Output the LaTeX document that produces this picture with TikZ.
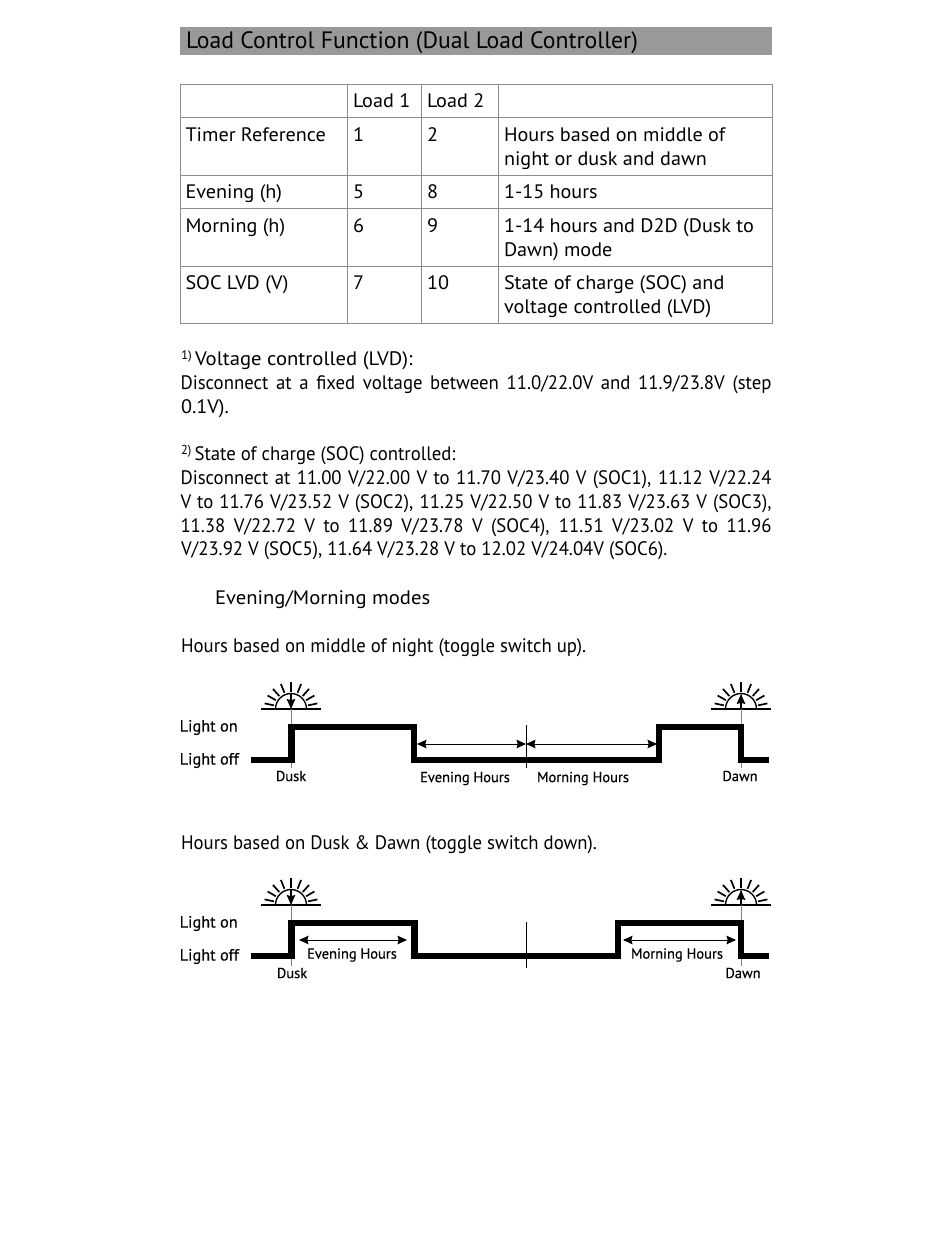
\documentclass[tikz,border=0pt]{standalone}
\usepackage{fontspec}
\setmainfont{PT Sans}
\newfontfamily\tabf[FakeStretch=1.035]{PT Sans}
\newfontfamily\headf[FakeStretch=1.06]{PT Sans}
\newfontfamily\parf[FakeStretch=0.962]{PT Sans}
\newfontfamily\labf[FakeBold=0.35]{PT Sans}
\usetikzlibrary{arrows.meta}
\tikzset{
  x=1pt,y=-1pt,
  txt/.style={anchor=base west,inner sep=0pt,outer sep=0pt,font=\tabf\fontsize{19.5}{23}\selectfont,text=black},
  par/.style={txt,font=\parf\fontsize{19.5}{23}\selectfont},
  hdr/.style={txt,font=\headf\fontsize{19.5}{23}\selectfont},
  ttl/.style={txt,font=\fontsize{23.7}{26}\selectfont},
  lab/.style={inner sep=0pt,font=\labf\fontsize{14.5}{16}\selectfont,text=black},
  labl/.style={lab,anchor=west,font=\labf\fontsize{16.3}{18}\selectfont},
  grid/.style={draw=black!45,line width=0.8pt},
  wave/.style={line width=6.1pt,line join=miter,draw=black},
  guide/.style={draw=black!50,line width=1pt},
  tick/.style={draw=black,line width=0.7pt},
  dim/.style={draw=black,line width=0.9pt,{Stealth[length=9.5pt,width=8.5pt,inset=1.2pt]}-{Stealth[length=9.5pt,width=8.5pt,inset=1.2pt]}},
  sunline/.style={draw=black,line width=1.4pt},
  sunarrow/.style={draw=black,line width=1.2pt,-{Stealth[length=10pt,width=8.5pt,inset=1.2pt]}},
}
\newcommand{\jline}[2]{\node[par] at (180.5,#1) {\makebox[591pt][s]{#2}};}
\newcommand{\sunrays}[3]{%
  \begin{scope}[shift={(#1,#2)}]
    \coordinate (#3c) at (0,0);
    \draw[sunline] (-30,0) -- (30,0);
    \draw[sunline] (-15.5,0) arc[start angle=180,end angle=360,radius=15.5];
    \foreach \a in {12,30,48,68,90,112,132,150,168}
      \draw[sunline,line width=1.7pt] ({17.5*cos(\a)},{-17.5*sin(\a)}) -- ({27*cos(\a)},{-27*sin(\a)});
  \end{scope}}
\begin{document}
\begin{tikzpicture}
\useasboundingbox (0,0) rectangle (950,1244);
\fill[white] (0,0) rectangle (950,1244);
% title
\fill[black!40] (180,27) rectangle (772,55);
\node[ttl] (title) at (186,48.5) {Load Control Function (Dual Load Controller)};
% table
\draw[grid] (180.5,84.5) rectangle (772.5,323.5);
\foreach \y in {117.5,175.5,208.5,266}
  \draw[grid] (180.5,\y) -- (772.5,\y);
\foreach \x in {347.5,421.5,498.5}
  \draw[grid] (\x,84.5) -- (\x,323.5);
\node[txt] (l1) at (353,107.5) {Load 1};
\node[txt] (l2) at (427,107.5) {Load 2};
\node[txt] (r1a) at (185.5,141) {Timer Reference};
\node[txt] (r1b) at (353,141) {1};
\node[txt] (r1c) at (427,141) {2};
\node[txt] (r1d) at (504,141) {Hours based on middle of};
\node[txt] (r1e) at (504,165) {night or dusk and dawn};
\node[txt] (r2a) at (185.5,198) {Evening (h)};
\node[txt] (r2b) at (353,198) {5};
\node[txt] (r2c) at (427,198) {8};
\node[txt] (r2d) at (504,198) {1-15 hours};
\node[txt] (r3a) at (185.5,232) {Morning (h)};
\node[txt] (r3b) at (353,232) {6};
\node[txt] (r3c) at (427,232) {9};
\node[txt] (r3d) at (504,232) {1-14 hours and D2D (Dusk to};
\node[txt] (r3e) at (504,256) {Dawn) mode};
\node[txt] (r4a) at (185.5,289) {SOC LVD (V)};
\node[txt] (r4b) at (353,289) {7};
\node[txt] (r4c) at (427,289) {10};
\node[txt] (r4d) at (504,289) {State of charge (SOC) and};
\node[txt] (r4e) at (504,313) {voltage controlled (LVD)};
% notes
\node[hdr] (n1) at (181,365) {\raisebox{6pt}{\fontsize{12.5}{12}\selectfont 1)}\,Voltage controlled (LVD):};
\jline{389}{Disconnect at a fixed voltage between 11.0/22.0V and 11.9/23.8V (step}
\node[txt] (n1c) at (181,413) {0.1V).};
\node[par] (n2) at (181,460) {\raisebox{6pt}{\fontsize{13}{12}\selectfont 2)}\,State of charge (SOC) controlled:};
\jline{484}{Disconnect at 11.00 V/22.00 V to 11.70 V/23.40 V (SOC1), 11.12 V/22.24}
\jline{508}{V to 11.76 V/23.52 V (SOC2), 11.25 V/22.50 V to 11.83 V/23.63 V (SOC3),}
\jline{532}{11.38 V/22.72 V to 11.89 V/23.78 V (SOC4), 11.51 V/23.02 V to 11.96}
\node[par] (n2e) at (181,555) {V/23.92 V (SOC5), 11.64 V/23.28 V to 12.02 V/24.04V (SOC6).};
\node[hdr] (h1) at (215,604) {Evening/Morning modes};
\node[par] (h2) at (181,652) {Hours based on middle of night (toggle switch up).};
\node[par] (h3) at (181,849) {Hours based on Dusk \& Dawn (toggle switch down).};
% diagram 1
\sunrays{291}{709}{a}
\sunrays{741}{709}{b}
\node[labl] (on1) at (179.5,727.5) {Light on};
\node[labl] (off1) at (179.5,760.5) {Light off};
\node[lab] (dusk1) at (291,776) {Dusk};
\node[lab] (eve1) at (465,778.5) {Evening Hours};
\node[lab] (mor1) at (583,778.5) {Morning Hours};
\node[lab] (dawn1) at (740,776) {Dawn};
\coordinate (a0) at (251,760); \coordinate (a1) at (291.5,760); \coordinate (a2) at (291.5,727);
\coordinate (a3) at (414,727); \coordinate (a4) at (414,760); \coordinate (a5) at (659,760);
\coordinate (a6) at (659,727); \coordinate (a7) at (741,727); \coordinate (a8) at (741,760); \coordinate (a9) at (769,760);
\coordinate (ag1) at (291,768); \coordinate (ag2) at (741,768);
\coordinate (at1) at (526,725); \coordinate (at2) at (526,768);
\coordinate (ad1) at (417,744); \coordinate (ad2) at (526,744); \coordinate (ad3) at (657,744);
\coordinate (as1) at (291,693); \coordinate (as3) at (741,694);
\draw[guide] (ac) -- (ag1);
\draw[guide] (as3) -- (ag2);
\draw[wave] (a0) -- (a1) -- (a2) -- (a3) -- (a4) -- (a5) -- (a6) -- (a7) -- (a8) -- (a9);
\draw[tick] (at1) -- (at2);
\draw[dim] (ad1) -- (ad2);
\draw[dim] (ad2) -- (ad3);
\draw[sunarrow] (as1) -- (ac);
\draw[sunarrow] (bc) -- (as3);
% diagram 2
\sunrays{291}{905}{c}
\sunrays{741}{905}{d}
\node[labl] (on2) at (179.5,923.5) {Light on};
\node[labl] (off2) at (179.5,956.5) {Light off};
\node[lab] (eve2) at (352,955) {Evening Hours};
\node[lab] (mor2) at (677,955) {Morning Hours};
\node[lab] (dusk2) at (292,973) {Dusk};
\node[lab] (dawn2) at (743,973) {Dawn};
\coordinate (c0) at (251,956); \coordinate (c1) at (291.5,956); \coordinate (c2) at (291.5,923);
\coordinate (c3) at (414.5,923); \coordinate (c4) at (414.5,956); \coordinate (c5) at (618,956);
\coordinate (c6) at (618,923); \coordinate (c7) at (741,923); \coordinate (c8) at (741,956); \coordinate (c9) at (769,956);
\coordinate (cg1) at (291,966); \coordinate (cg2) at (741,966);
\coordinate (ct1) at (526,922); \coordinate (ct2) at (526,968);
\coordinate (cd1) at (299,940); \coordinate (cd2) at (407,940); \coordinate (cd3) at (623,940); \coordinate (cd4) at (736,940);
\coordinate (cs1) at (291,889); \coordinate (cs3) at (741,890);
\draw[guide] (cc) -- (cg1);
\draw[guide] (cs3) -- (cg2);
\draw[wave] (c0) -- (c1) -- (c2) -- (c3) -- (c4) -- (c5) -- (c6) -- (c7) -- (c8) -- (c9);
\draw[tick] (ct1) -- (ct2);
\draw[dim] (cd1) -- (cd2);
\draw[dim] (cd3) -- (cd4);
\draw[sunarrow] (cs1) -- (cc);
\draw[sunarrow] (dc) -- (cs3);
\end{tikzpicture}
\end{document}
